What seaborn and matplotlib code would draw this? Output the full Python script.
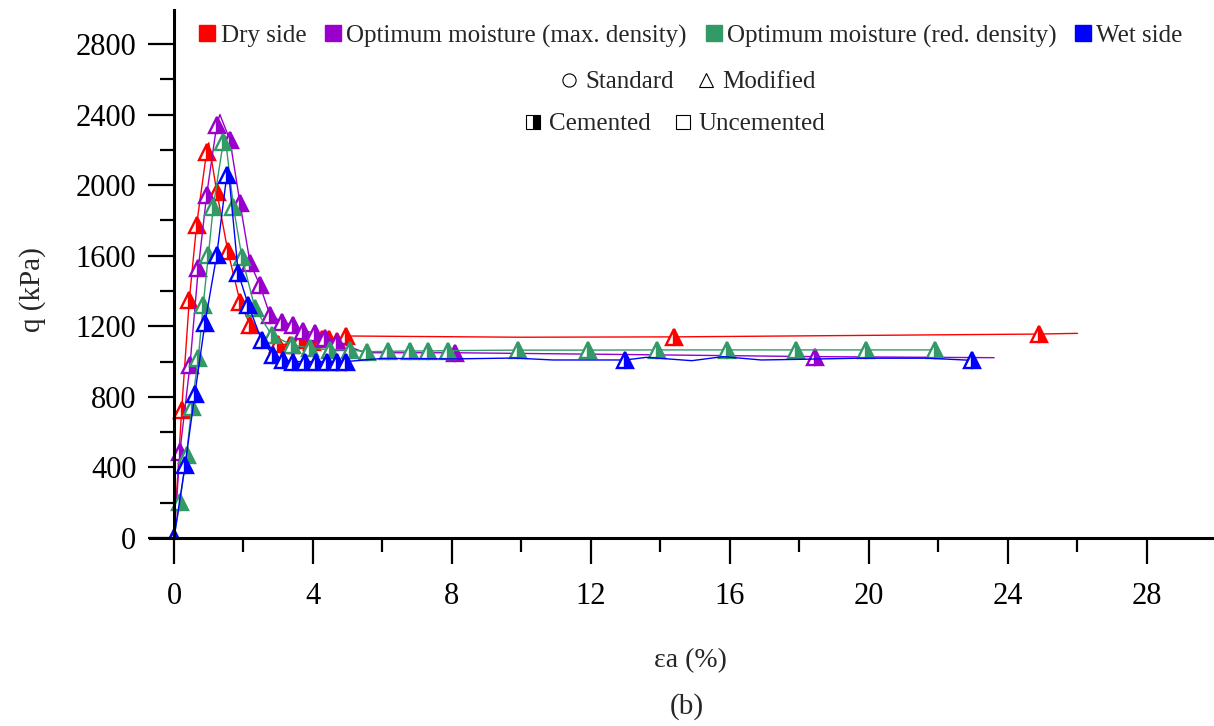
import matplotlib
matplotlib.use("Agg")
import matplotlib.pyplot as plt
from matplotlib.lines import Line2D
from matplotlib.ticker import MultipleLocator
import seaborn as sns

# Axial strain (%) and deviator stress q (kPa) for each moisture condition.
# *_marked lists the recorded points that carry a symbol on the curve.
dry_strain = [0, 0.22, 0.44, 0.65, 0.94, 1.0, 1.23, 1.55, 1.9, 2.19, 2.6, 3.0, 3.35,
              3.63, 3.96, 4.25, 4.45, 4.7, 4.95, 10.0, 14.4, 24.9, 26.0]
dry_q = [0, 726, 1349, 1774, 2190, 2240, 1963, 1625, 1340, 1207, 1140, 1100, 1095,
         1122, 1113, 1128, 1128, 1118, 1145, 1138, 1140, 1156, 1160]
dry_marked = [0, 1, 2, 3, 4, 6, 7, 8, 9, 11, 12, 13, 14, 15, 16, 17, 18, 20, 21]

maxd_strain = [0, 0.17, 0.46, 0.70, 0.94, 1.23, 1.32, 1.61, 1.9, 2.19, 2.47, 2.76,
               3.10, 3.42, 3.71, 4.06, 4.35, 4.68, 5.5, 8.09, 13.0, 18.45, 23.6]
maxd_q = [0, 489, 981, 1529, 1945, 2341, 2400, 2256, 1897, 1559, 1434, 1264,
          1226, 1207, 1175, 1162, 1135, 1113, 1050, 1050, 1040, 1028, 1022]
maxd_marked = [0, 1, 2, 3, 4, 5, 7, 8, 9, 10, 11, 12, 13, 14, 15, 16, 17, 19, 21]

redd_strain = [0, 0.17, 0.36, 0.51, 0.70, 0.84, 0.99, 1.13, 1.42, 1.47, 1.71, 1.95,
               2.33, 2.81, 3.39, 3.91, 4.49, 5.06, 5.55, 6.16, 6.78, 7.32, 7.88,
               9.89, 11.9, 13.9, 15.9, 17.9, 19.9, 21.9]
redd_q = [0, 206, 470, 745, 1019, 1321, 1604, 1878, 2247, 2280, 1878, 1595,
          1302, 1151, 1094, 1077, 1066, 1066, 1056, 1058, 1060, 1060, 1062,
          1065, 1065, 1066, 1066, 1066, 1066, 1066]
redd_marked = [i for i in range(len(redd_strain)) if i != 9]

wet_strain = [0, 0.32, 0.6, 0.89, 1.23, 1.52, 1.56, 1.85, 2.14, 2.52, 2.85, 3.14,
              3.42, 3.77, 4.1, 4.39, 4.68, 4.95, 6.0, 8.0, 9.8, 10.9, 12.98, 13.6,
              14.9, 15.8, 16.9, 17.8, 19.7, 21.7, 22.95]
wet_q = [0, 414, 815, 1217, 1604, 2058, 2097, 1500, 1320, 1122, 1037, 1009,
         1000, 1000, 1000, 1000, 1000, 1000, 1018, 1015, 1020, 1009, 1009, 1024,
         1005, 1028, 1009, 1012, 1019, 1019, 1007]
wet_marked = [0, 1, 2, 3, 4, 5, 7, 8, 9, 10, 11, 12, 13, 14, 15, 16, 17, 22, 30]

series_names = ["Dry side", "Optimum moisture (max. density)",
                "Optimum moisture (red. density)", "Wet side"]
series_colors = ["#FF0000", "#9900CC", "#339966", "#0000FF"]
compaction_labels = ["Standard", "Modified"]
binder_labels = ["Cemented", "Uncemented"]

sns.set_theme(style="white")
plt.rcParams["font.family"] = ["Liberation Serif", "DejaVu Sans"]

fig = plt.figure(figsize=(12.14, 7.26), dpi=100)
ax = fig.add_axes([0.12329, 0.25895, 0.87733, 0.72663])

curves = [(dry_strain, dry_q, dry_marked),
          (maxd_strain, maxd_q, maxd_marked),
          (redd_strain, redd_q, redd_marked),
          (wet_strain, wet_q, wet_marked)]

for (xs, qs, marked), color in zip(curves, series_colors):
    sns.lineplot(x=xs, y=qs, ax=ax, sort=False, estimator=None,
                 color=color, lw=1.0, marker="^", markevery=marked,
                 ms=11.5, mew=1.7, mec=color, mfc=color, mfcalt="white",
                 fillstyle="right")

ax.set_xlim(-0.7, 29.95)
ax.set_ylim(0, 2990)
ax.xaxis.set_major_locator(MultipleLocator(4))
ax.xaxis.set_minor_locator(MultipleLocator(2))
ax.yaxis.set_major_locator(MultipleLocator(400))
ax.yaxis.set_minor_locator(MultipleLocator(200))

for side in ["top", "right"]:
    ax.spines[side].set_visible(False)
ax.spines["left"].set_position(("data", 0))
for side in ["left", "bottom"]:
    ax.spines[side].set_linewidth(2.2)
    ax.spines[side].set_color("black")

ax.tick_params(which="major", direction="out", length=19, width=1.6,
               color="black", labelsize=22, labelcolor="black")
ax.tick_params(which="minor", direction="out", length=10, width=1.6,
               color="black")
ax.tick_params(axis="x", which="major", pad=13)
ax.tick_params(axis="y", which="major", pad=8)
ax.tick_params(which="both", bottom=True, left=True)
ax.set_xlabel("")
ax.set_ylabel("")

fig.text(690 / 1214, 1 - 661 / 726, "εa (%)", fontsize=20,
         ha="center", va="center")
fig.text(33 / 1214, 1 - 290 / 726, "q (kPa)", fontsize=21,
         ha="center", va="center", rotation=90)
fig.text(687 / 1214, 1 - 707 / 726, "(b)", fontsize=21,
         ha="center", va="center")

# Legend: moisture condition colours
color_handles = [Line2D([], [], ls="none", marker="s", ms=11, mfc=c, mec=c)
                 for c in series_colors]
fig.legend(color_handles, series_names, loc="center", ncol=4, frameon=False,
           fontsize=18, handlelength=0.65, handletextpad=0.2,
           columnspacing=0.75, bbox_to_anchor=(691 / 1214, 1 - 36 / 726),
           bbox_transform=fig.transFigure)

# Legend: compaction effort
effort_handles = [Line2D([], [], ls="none", marker="o", ms=9.5, mfc="none",
                         mec="black", mew=0.8),
                  Line2D([], [], ls="none", marker="^", ms=9.5, mfc="none",
                         mec="black", mew=0.8)]
fig.legend(effort_handles, compaction_labels, loc="center", ncol=2,
           frameon=False, fontsize=18, handlelength=0.7, handletextpad=0.3,
           columnspacing=0.9, bbox_to_anchor=(688 / 1214, 1 - 82 / 726),
           bbox_transform=fig.transFigure)

# Legend: binder
binder_handles = [Line2D([], [], ls="none", marker="s", ms=10, mfc="black",
                         mfcalt="white", fillstyle="right", mec="black", mew=0.8),
                  Line2D([], [], ls="none", marker="s", ms=10, mfc="none",
                         mec="black", mew=0.8)]
fig.legend(binder_handles, binder_labels, loc="center", ncol=2,
           frameon=False, fontsize=18, handlelength=0.7, handletextpad=0.3,
           columnspacing=0.9, bbox_to_anchor=(675 / 1214, 1 - 124 / 726),
           bbox_transform=fig.transFigure)

fig.savefig("out.png", dpi=100)
